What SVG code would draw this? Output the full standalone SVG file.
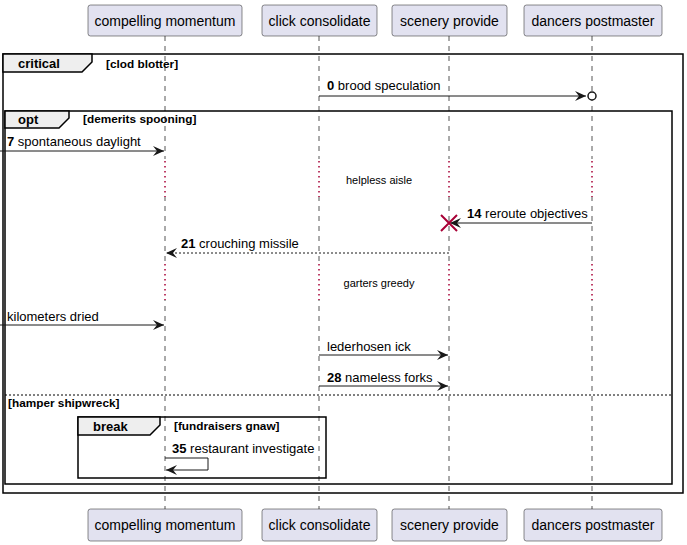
<svg xmlns="http://www.w3.org/2000/svg" width="687" height="545" viewBox="0 0 687 545">
<defs>
<style>
.part{fill:#E2E2F0;stroke:#181818;stroke-width:0.5}
.ptxt{font-family:"Liberation Sans",Arial,sans-serif;font-size:14px;fill:#000}
.life{stroke:#555;stroke-width:1;stroke-dasharray:5,5}
.delay{stroke:#A80036;stroke-width:1.5;stroke-dasharray:1.5,3.5}
.frame{fill:none;stroke:#000;stroke-width:1.5}
.tab{fill:#EEEEEE;stroke:#000;stroke-width:1.5}
.ftitle{font-family:"Liberation Sans",Arial,sans-serif;font-size:13px;font-weight:bold}
.fcond{font-family:"Liberation Sans",Arial,sans-serif;font-size:11.8px;font-weight:bold}
.msg{stroke:#181818;stroke-width:1;fill:none}
.mtxt{font-family:"Liberation Sans",Arial,sans-serif;font-size:13px;fill:#000}
.num{font-weight:bold}
.dtxt{font-family:"Liberation Sans",Arial,sans-serif;font-size:11px;fill:#000}
</style>
<marker id="ah" viewBox="0 0 12 10" refX="11" refY="5" markerWidth="12" markerHeight="10" markerUnits="userSpaceOnUse" orient="auto">
<path d="M0,0 L11,5 L0,10 L4,5 Z" fill="#181818"/>
</marker>
</defs>
<g id="lifelines">
<line class="life" x1="165" y1="36" x2="165" y2="509"/>
<line class="life" x1="319" y1="36" x2="319" y2="509"/>
<line class="life" x1="449" y1="36" x2="449" y2="509"/>
<line class="life" x1="592" y1="36" x2="592" y2="509"/>
<rect x="160" y="159" width="10" height="38" fill="#fff"/>
<rect x="314" y="159" width="10" height="38" fill="#fff"/>
<rect x="444" y="159" width="10" height="38" fill="#fff"/>
<rect x="587" y="159" width="10" height="38" fill="#fff"/>
<rect x="160" y="262" width="10" height="38" fill="#fff"/>
<rect x="314" y="262" width="10" height="38" fill="#fff"/>
<rect x="444" y="262" width="10" height="38" fill="#fff"/>
<rect x="587" y="262" width="10" height="38" fill="#fff"/>
<line class="delay" x1="165" y1="161" x2="165" y2="197"/>
<line class="delay" x1="319" y1="161" x2="319" y2="197"/>
<line class="delay" x1="449" y1="161" x2="449" y2="197"/>
<line class="delay" x1="592" y1="161" x2="592" y2="197"/>
<line class="delay" x1="165" y1="264" x2="165" y2="300"/>
<line class="delay" x1="319" y1="264" x2="319" y2="300"/>
<line class="delay" x1="449" y1="264" x2="449" y2="300"/>
<line class="delay" x1="592" y1="264" x2="592" y2="300"/>
</g>
<g id="p-compelling">
<rect class="part" x="88" y="5" width="154" height="31" rx="2.5"/>
<text class="ptxt" x="165" y="26" text-anchor="middle">compelling momentum</text>
<rect class="part" x="88" y="509" width="154" height="32" rx="2.5"/>
<text class="ptxt" x="165" y="530" text-anchor="middle">compelling momentum</text>
</g>
<g id="p-click">
<rect class="part" x="262" y="5" width="115" height="31" rx="2.5"/>
<text class="ptxt" x="319.5" y="26" text-anchor="middle">click consolidate</text>
<rect class="part" x="262" y="509" width="115" height="32" rx="2.5"/>
<text class="ptxt" x="319.5" y="530" text-anchor="middle">click consolidate</text>
</g>
<g id="p-scenery">
<rect class="part" x="392" y="5" width="115" height="31" rx="2.5"/>
<text class="ptxt" x="449.5" y="26" text-anchor="middle">scenery provide</text>
<rect class="part" x="392" y="509" width="115" height="32" rx="2.5"/>
<text class="ptxt" x="449.5" y="530" text-anchor="middle">scenery provide</text>
</g>
<g id="p-dancers">
<rect class="part" x="524" y="5" width="138" height="31" rx="2.5"/>
<text class="ptxt" x="593" y="26" text-anchor="middle">dancers postmaster</text>
<rect class="part" x="524" y="509" width="138" height="32" rx="2.5"/>
<text class="ptxt" x="593" y="530" text-anchor="middle">dancers postmaster</text>
</g>
<g id="frames">
<rect class="frame" x="3" y="54" width="680" height="439"/>
<path class="tab" d="M3,54 L92,54 L92,62 L82,72 L3,72 Z"/>
<text class="ftitle" x="18" y="68">critical</text>
<text class="fcond" x="106" y="68">[clod blotter]</text>
<rect class="frame" x="5" y="111" width="667" height="373"/>
<path class="tab" d="M5,111 L69,111 L69,118 L59,128 L5,128 Z"/>
<text class="ftitle" x="18" y="124">opt</text>
<text class="fcond" x="83" y="123">[demerits spooning]</text>
<line x1="5" y1="395" x2="672" y2="395" stroke="#000" stroke-width="1" stroke-dasharray="2,2"/>
<text class="fcond" x="8" y="407">[hamper shipwreck]</text>
<rect class="frame" x="78" y="417" width="248" height="61"/>
<path class="tab" d="M78,417 L160,417 L160,425 L150,435 L78,435 Z"/>
<text class="ftitle" x="93" y="431">break</text>
<text class="fcond" x="174" y="430">[fundraisers gnaw]</text>
</g>
<g id="connectors">
<line class="msg" x1="319" y1="96" x2="586" y2="96" marker-end="url(#ah)"/>
<circle cx="592" cy="96" r="4" fill="#fff" stroke="#181818" stroke-width="1.5"/>
<text class="mtxt" x="327" y="90"><tspan class="num">0</tspan> brood speculation</text>
<line class="msg" x1="0" y1="151" x2="164" y2="151" marker-end="url(#ah)"/>
<text class="mtxt" x="7" y="146"><tspan class="num">7</tspan> spontaneous daylight</text>
<text class="dtxt" x="379" y="184" text-anchor="middle">helpless aisle</text>
<line class="msg" x1="592" y1="223" x2="450" y2="223" marker-end="url(#ah)"/>
<path d="M441,215 L457,231 M457,215 L441,231" stroke="#A80036" stroke-width="2"/>
<text class="mtxt" x="467" y="218"><tspan class="num">14</tspan> reroute objectives</text>
<line class="msg" x1="449" y1="253" x2="166" y2="253" stroke-dasharray="2,2" marker-end="url(#ah)"/>
<text class="mtxt" x="181" y="248"><tspan class="num">21</tspan> crouching missile</text>
<text class="dtxt" x="379" y="287" text-anchor="middle">garters greedy</text>
<line class="msg" x1="0" y1="325" x2="164" y2="325" marker-end="url(#ah)"/>
<text class="mtxt" x="7" y="321">kilometers dried</text>
<line class="msg" x1="319" y1="355" x2="448" y2="355" marker-end="url(#ah)"/>
<text class="mtxt" x="327" y="351">lederhosen ick</text>
<line class="msg" x1="319" y1="386" x2="448" y2="386" marker-end="url(#ah)"/>
<text class="mtxt" x="327" y="382"><tspan class="num">28</tspan> nameless forks</text>
<path class="msg" d="M165,458 L208,458 L208,470 L166,470" marker-end="url(#ah)"/>
<text class="mtxt" x="172" y="453"><tspan class="num">35</tspan> restaurant investigate</text>
</g>
</svg>
